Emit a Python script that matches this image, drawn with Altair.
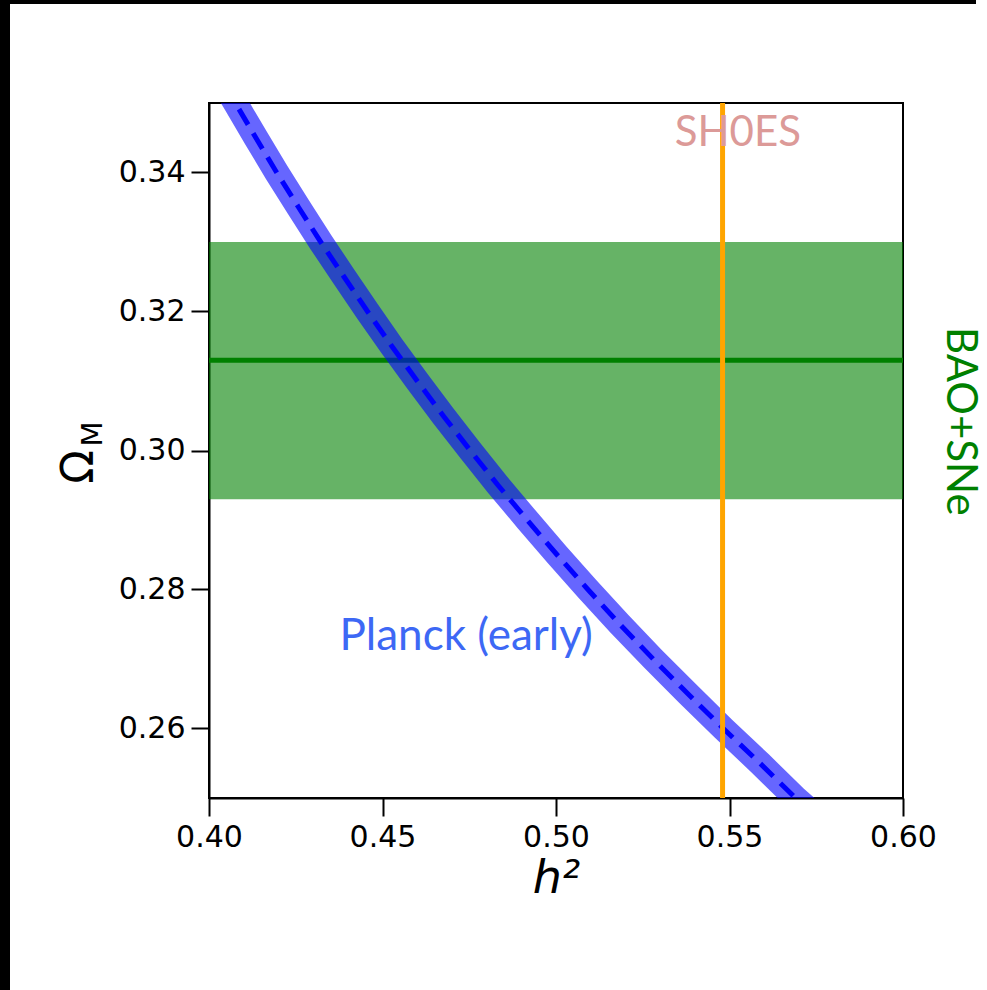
import altair as alt
import pandas as pd

# Planck (early) degeneracy curve: Omega_M against h^2
planck_om = [0.355, 0.350, 0.345, 0.340, 0.335, 0.330, 0.325, 0.320, 0.315, 0.310, 0.305,
             0.300, 0.295, 0.290, 0.285, 0.280, 0.275, 0.270, 0.265, 0.260, 0.255,
             0.250, 0.245]
planck_h2 = [0.4017, 0.4076, 0.4135, 0.4195, 0.4258, 0.4322, 0.4389, 0.4457, 0.4527, 0.4600, 0.4675,
             0.4753, 0.4833, 0.4917, 0.5003, 0.5092, 0.5184, 0.5280, 0.5380, 0.5482, 0.5588,
             0.5690, 0.5805]

# BAO+SNe constraint on Omega_M
bao_center = 0.313
bao_low = 0.293
bao_high = 0.330

# SH0ES value of h^2
shoes_h2 = 0.548

x_ticks = [0.40, 0.45, 0.50, 0.55, 0.60]
y_ticks = [0.26, 0.28, 0.30, 0.32, 0.34]

x_dom = [0.40, 0.60]
y_dom = [0.25, 0.35]

curve = pd.DataFrame({"h2": planck_h2, "om": planck_om})
band = pd.DataFrame({"x0": [x_dom[0]], "x1": [x_dom[1]], "lo": [bao_low], "hi": [bao_high], "mid": [bao_center]})
shoes = pd.DataFrame({"h2": [shoes_h2]})

xs = alt.Scale(domain=x_dom, nice=False, zero=False)
ys = alt.Scale(domain=y_dom, nice=False, zero=False)

x_axis = alt.Axis(values=x_ticks, format=".2f", title="h²", grid=False, labelFlush=False,
                  titleFont="DejaVu Sans", titleFontStyle="italic", titleFontWeight="normal",
                  titleFontSize=46, titlePadding=4)
y_axis = alt.Axis(values=y_ticks, format=".2f", title=None, grid=False, labelFlush=False)

base = alt.Chart(band)

bao_band = base.mark_rect(color="green", opacity=0.6).encode(
    x=alt.X("x0:Q", scale=xs, axis=x_axis),
    x2="x1:Q",
    y=alt.Y("lo:Q", scale=ys, axis=y_axis),
    y2="hi:Q",
)

bao_line = base.mark_rule(color="green", strokeWidth=5).encode(
    x="x0:Q", x2="x1:Q", y="mid:Q"
)

planck_band = alt.Chart(curve).mark_line(
    color="blue", strokeWidth=25, strokeOpacity=0.6, clip=True
).encode(
    x=alt.X("h2:Q", scale=xs), y=alt.Y("om:Q", scale=ys), order="om:Q"
)

planck_dash = alt.Chart(curve).mark_line(
    color="blue", strokeWidth=5, strokeDash=[18, 10], clip=True
).encode(
    x=alt.X("h2:Q", scale=xs), y=alt.Y("om:Q", scale=ys), order="om:Q"
)

shoes_line = alt.Chart(shoes).mark_rule(color="orange", strokeWidth=5).encode(
    x=alt.X("h2:Q", scale=xs)
)

labels = pd.DataFrame({
    "text": ["SH0ES", "Planck (early)", "BAO+SNe"],
    "x": [0.5524, 0.4741, 0.6165],
    "y": [0.3457, 0.2732, 0.3042],
})


def label(i, color, size, angle=0):
    return alt.Chart(labels.iloc[[i]]).mark_text(
        color=color, font="Lato", fontSize=size, angle=angle,
        align="center", baseline="middle"
    ).encode(x=alt.X("x:Q", scale=xs), y=alt.Y("y:Q", scale=ys), text="text:N")


shoes_text = label(0, "#dc9a98", 42)
planck_text = label(1, "#3d68f5", 44)
bao_text = label(2, "green", 42, angle=90)

# y-axis title: Omega with subscript M, both rotated
ytitle = pd.DataFrame({"t": ["Ω", "M"]})
omega = alt.Chart(ytitle.iloc[[0]]).mark_text(
    font="DejaVu Sans", fontSize=44, angle=270, align="center", baseline="middle", color="black"
).encode(x=alt.value(-129), y=alt.value(364), text="t:N")
sub_m = alt.Chart(ytitle.iloc[[1]]).mark_text(
    font="DejaVu Sans", fontSize=29, angle=270, align="center", baseline="middle", color="black"
).encode(x=alt.value(-116), y=alt.value(331), text="t:N")

# dark frame strips along the top and left edges of the figure
frame = pd.DataFrame({"edge": ["top", "left"]})
frame_top = alt.Chart(frame.iloc[[0]]).mark_rect(color="black").encode(
    x=alt.value(-209), x2=alt.value(767), y=alt.value(-103), y2=alt.value(-99)
)
frame_left = alt.Chart(frame.iloc[[1]]).mark_rect(color="black").encode(
    x=alt.value(-209), x2=alt.value(-199), y=alt.value(-103), y2=alt.value(887)
)

chart = alt.layer(
    bao_band, bao_line, planck_band, planck_dash, shoes_line,
    shoes_text, planck_text, bao_text, omega, sub_m, frame_top, frame_left
).properties(
    width=694, height=695,
    autosize=alt.AutoSizeParams(type="none"),
    padding={"left": 209, "top": 103, "right": 84, "bottom": 192},
    background="white",
).configure_view(
    stroke="black", strokeWidth=2
).configure_axis(
    labelFont="DejaVu Sans", labelFontSize=30, labelColor="black",
    domainColor="black", domainWidth=2, tickColor="black", tickWidth=2,
    tickSize=18, labelPadding=6, titleColor="black"
)

chart.save("out.html", embed_options={"renderer": "svg", "actions": False})
